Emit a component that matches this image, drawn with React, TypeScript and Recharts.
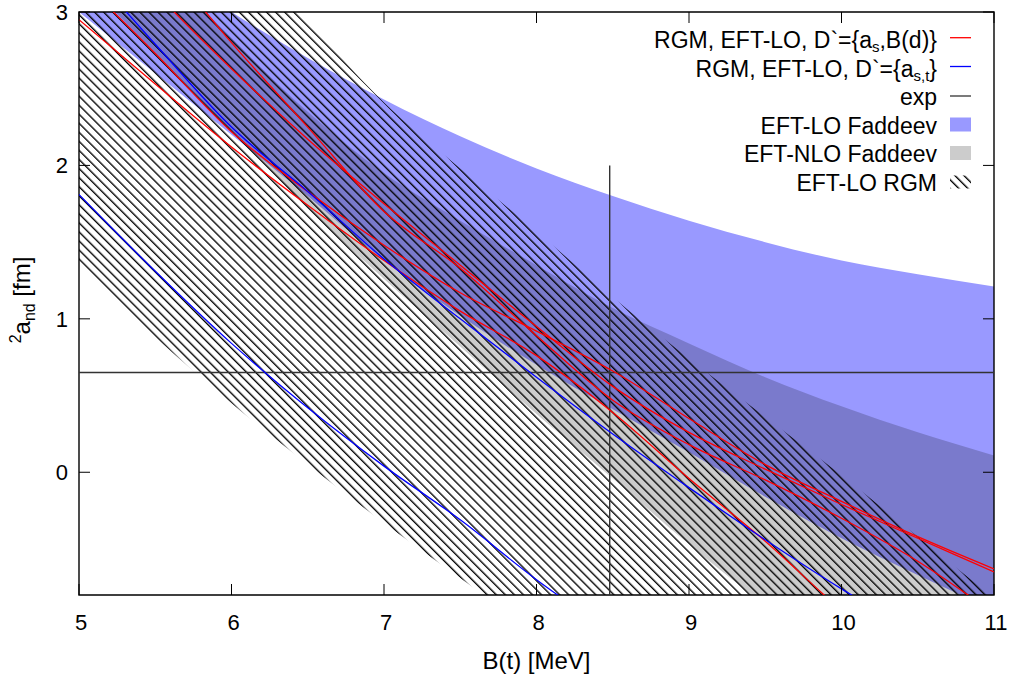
import React from 'react';
import {
  ComposedChart,
  Area,
  Line,
  XAxis,
  YAxis,
  ReferenceLine,
  ReferenceArea,
} from 'recharts';

// Canvas and plot frame
const WIDTH = 1009;
const HEIGHT = 679;
const PLOT_TOP = 12;
const PLOT_RIGHT_MARGIN = 15;
const Y_AXIS_WIDTH = 79;
const X_AXIS_HEIGHT = 84;
const PLOT_LEFT = Y_AXIS_WIDTH;
const PLOT_RIGHT = WIDTH - PLOT_RIGHT_MARGIN;
const PLOT_BOTTOM = HEIGHT - X_AXIS_HEIGHT;
const TICK_LEN = 11;
const FONT = '"Liberation Sans", Arial, Helvetica, sans-serif';

// Axis ranges and tick labels
const X_DOMAIN: [number, number] = [5, 11];
const Y_DOMAIN: [number, number] = [-0.8, 3];
const X_TICKS = [5, 6, 7, 8, 9, 10, 11];
const Y_TICKS = [0, 1, 2, 3];

// Experimental values: B(t) and 2a_nd
const EXP_BT = 8.48;
const EXP_AND = 0.65;
const EXP_BT_LINE_TOP = 2.0;

// Sampling grid for B(t) [MeV]
const bt = [5, 5.5, 6, 6.5, 7, 7.5, 8, 8.5, 9, 9.5, 10, 10.5, 11];

// EFT-LO Faddeev band (upper / lower edge)
const loFaddeevUpper = [3.7, 3.33, 3.0, 2.7, 2.43, 2.19, 1.98, 1.8, 1.64, 1.5, 1.38, 1.29, 1.21];
const loFaddeevLower = [3.0, 2.6, 2.2, 1.8, 1.38, 1.02, 0.7, 0.41, 0.13, -0.16, -0.43, -0.67, -0.9];

// EFT-NLO Faddeev band (upper / lower edge)
const nloFaddeevUpper = [3.9, 3.35, 2.83, 2.35, 1.95, 1.64, 1.35, 1.07, 0.84, 0.62, 0.43, 0.26, 0.11];
const nloFaddeevLower = [3.25, 2.73, 2.23, 1.72, 1.26, 0.82, 0.38, -0.04, -0.47, -0.87, -1.25, -1.6, -1.95];

// EFT-LO RGM band (upper / lower edge)
const loRgmUpper = [4.6, 4.1, 3.55, 2.95, 2.41, 1.98, 1.57, 1.14, 0.74, 0.36, -0.02, -0.42, -0.82];
const loRgmLower = [1.35, 0.88, 0.45, 0.05, -0.33, -0.69, -1.05, -1.4, -1.75, -2.1, -2.45, -2.8, -3.15];

// RGM, EFT-LO with D` = {a_s, B(d)} for several cutoffs
const rgmAsBd1 = [2.95, 2.53, 2.12, 1.74, 1.38, 1.05, 0.76, 0.39, -0.04, -0.45, -0.9, -1.3, -1.7];
const rgmAsBd2 = [3.22, 2.73, 2.22, 1.83, 1.48, 1.17, 0.92, 0.66, 0.35, 0.05, -0.19, -0.42, -0.63];
const rgmAsBd3 = [3.7, 3.13, 2.63, 2.17, 1.75, 1.35, 0.95, 0.56, 0.26, 0.02, -0.21, -0.43, -0.65];
const rgmAsBd4 = [4.0, 3.4, 2.8, 2.25, 1.7, 1.33, 0.89, 0.47, 0.18, -0.05, -0.3, -0.58, -0.92];

// RGM, EFT-LO with D` = {a_s, a_t} for several cutoffs
const rgmAsAt1 = [1.81, 1.31, 0.84, 0.42, 0.04, -0.31, -0.7, -1.05, -1.4, -1.75, -2.1, -2.45, -2.8];
const rgmAsAt2 = [3.35, 2.79, 2.25, 1.83, 1.39, 1.0, 0.62, 0.25, -0.1, -0.44, -0.76, -1.05, -1.33];

const rows = bt.map((x, i) => ({
  x,
  lo: [loFaddeevLower[i], loFaddeevUpper[i]],
  nlo: [nloFaddeevLower[i], nloFaddeevUpper[i]],
  rgm: [loRgmLower[i], loRgmUpper[i]],
  r1: rgmAsBd1[i],
  r2: rgmAsBd2[i],
  r3: rgmAsBd3[i],
  r4: rgmAsBd4[i],
  b1: rgmAsAt1[i],
  b2: rgmAsAt2[i],
}));

const redKeys = ['r1', 'r2', 'r3', 'r4'];
const blueKeys = ['b1', 'b2'];

const XTick = (props: any) => {
  const { x, payload } = props;
  return (
    <g>
      <line x1={x} y1={PLOT_BOTTOM} x2={x} y2={PLOT_BOTTOM - TICK_LEN} stroke="#000" strokeWidth={1} />
      <line x1={x} y1={PLOT_TOP} x2={x} y2={PLOT_TOP + TICK_LEN} stroke="#000" strokeWidth={1} />
      <text x={x + 2} y={PLOT_BOTTOM + 35} textAnchor="middle" fontFamily={FONT} fontSize={22} fill="#000">
        {payload.value}
      </text>
    </g>
  );
};

const YTick = (props: any) => {
  const { y, payload } = props;
  return (
    <g>
      <line x1={PLOT_LEFT} y1={y} x2={PLOT_LEFT + TICK_LEN} y2={y} stroke="#000" strokeWidth={1} />
      <line x1={PLOT_RIGHT} y1={y} x2={PLOT_RIGHT - TICK_LEN} y2={y} stroke="#000" strokeWidth={1} />
      <text x={PLOT_LEFT - 11} y={y + 8} textAnchor="end" fontFamily={FONT} fontSize={22} fill="#000">
        {payload.value}
      </text>
    </g>
  );
};

const LEGEND_TEXT_X = 937;
const LEGEND_KEY_X0 = 950;
const LEGEND_KEY_X1 = 971;
const LEGEND_BASE = [47.7, 76.5, 105, 133.5, 162, 190.5];

const HatchPattern = ({ id }: { id: string }) => (
  <pattern id={id} patternUnits="userSpaceOnUse" width="6.4" height="6.4" patternTransform="rotate(-45)">
    <line x1="0.7" y1="0" x2="0.7" y2="6.4" stroke="#000" strokeWidth="1.35" />
  </pattern>
);

const Legend = () => (
  <svg
    width={WIDTH}
    height={HEIGHT}
    style={{ position: 'absolute', left: 0, top: 0, pointerEvents: 'none' }}
    fontFamily={FONT}
    fontSize={23}
  >
    <defs>
      <HatchPattern id="legendHatch" />
    </defs>
    <text x={LEGEND_TEXT_X} y={LEGEND_BASE[0]} textAnchor="end">
      RGM, EFT-LO, D`={'{'}a<tspan fontSize={15} dy={4}>s</tspan>
      <tspan dy={-4}>,B(d){'}'}</tspan>
    </text>
    <line x1={LEGEND_KEY_X0} x2={LEGEND_KEY_X1} y1={LEGEND_BASE[0] - 10} y2={LEGEND_BASE[0] - 10} stroke="#ff0000" strokeWidth={1.3} />
    <text x={LEGEND_TEXT_X} y={LEGEND_BASE[1]} textAnchor="end">
      RGM, EFT-LO, D`={'{'}a<tspan fontSize={15} dy={4}>s,t</tspan>
      <tspan dy={-4}>{'}'}</tspan>
    </text>
    <line x1={LEGEND_KEY_X0} x2={LEGEND_KEY_X1} y1={LEGEND_BASE[1] - 10} y2={LEGEND_BASE[1] - 10} stroke="#0000ff" strokeWidth={1.3} />
    <text x={LEGEND_TEXT_X} y={LEGEND_BASE[2]} textAnchor="end">exp</text>
    <line x1={LEGEND_KEY_X0} x2={LEGEND_KEY_X1} y1={LEGEND_BASE[2] - 9} y2={LEGEND_BASE[2] - 9} stroke="#333" strokeWidth={1.3} />
    <text x={LEGEND_TEXT_X} y={LEGEND_BASE[3]} textAnchor="end">EFT-LO Faddeev</text>
    <rect x={LEGEND_KEY_X0} y={LEGEND_BASE[3] - 16} width={LEGEND_KEY_X1 - LEGEND_KEY_X0} height={14} fill="#9999ff" />
    <text x={LEGEND_TEXT_X} y={LEGEND_BASE[4]} textAnchor="end">EFT-NLO Faddeev</text>
    <rect x={LEGEND_KEY_X0} y={LEGEND_BASE[4] - 16} width={LEGEND_KEY_X1 - LEGEND_KEY_X0} height={14} fill="#cccccc" />
    <text x={LEGEND_TEXT_X} y={LEGEND_BASE[5]} textAnchor="end">EFT-LO RGM</text>
    <rect x={LEGEND_KEY_X0} y={LEGEND_BASE[5] - 15} width={LEGEND_KEY_X1 - LEGEND_KEY_X0} height={13} fill="url(#legendHatch)" />
  </svg>
);

export default function App() {
  return (
    <div style={{ position: 'absolute', left: 0, top: 0, width: WIDTH, height: HEIGHT, background: '#fff' }}>
      <ComposedChart
        width={WIDTH}
        height={HEIGHT}
        data={rows}
        margin={{ top: PLOT_TOP, right: PLOT_RIGHT_MARGIN, bottom: 0, left: 0 }}
      >
        <defs>
          <HatchPattern id="rgmHatch" />
        </defs>
        <XAxis
          dataKey="x"
          type="number"
          domain={X_DOMAIN}
          ticks={X_TICKS}
          allowDataOverflow
          height={X_AXIS_HEIGHT}
          tickSize={0}
          tickMargin={0}
          axisLine={false}
          tick={<XTick />}
          interval={0}
          label={{ value: 'B(t) [MeV]', position: 'insideBottom', offset: 10, fontFamily: FONT, fontSize: 24, fill: '#000' }}
        />
        <YAxis
          type="number"
          domain={Y_DOMAIN}
          ticks={Y_TICKS}
          allowDataOverflow
          width={Y_AXIS_WIDTH}
          tickSize={0}
          tickMargin={0}
          axisLine={false}
          tick={<YTick />}
          interval={0}
        />
        <Area dataKey="lo" type="monotone" stroke="none" fill="#9999ff" fillOpacity={1} isAnimationActive={false} dot={false} activeDot={false} />
        <Area dataKey="nlo" type="monotone" stroke="none" fill="#000" fillOpacity={0.2} isAnimationActive={false} dot={false} activeDot={false} />
        <Area dataKey="rgm" type="monotone" stroke="none" fill="url(#rgmHatch)" fillOpacity={1} isAnimationActive={false} dot={false} activeDot={false} />
        <ReferenceLine y={EXP_AND} stroke="#333" strokeWidth={1.4} />
        <ReferenceLine segment={[{ x: EXP_BT, y: Y_DOMAIN[0] }, { x: EXP_BT, y: EXP_BT_LINE_TOP }]} stroke="#333" strokeWidth={1.4} />
        {redKeys.map((k) => (
          <Line key={k} dataKey={k} type="monotone" stroke="#ff0000" strokeWidth={1.3} dot={false} activeDot={false} isAnimationActive={false} />
        ))}
        {blueKeys.map((k) => (
          <Line key={k} dataKey={k} type="monotone" stroke="#0000ff" strokeWidth={1.3} dot={false} activeDot={false} isAnimationActive={false} />
        ))}
        <ReferenceArea x1={X_DOMAIN[0]} x2={X_DOMAIN[1]} y1={Y_DOMAIN[0]} y2={Y_DOMAIN[1]} fill="none" stroke="#000" strokeWidth={1.4} fillOpacity={0} />
      </ComposedChart>
      <svg width={WIDTH} height={HEIGHT} style={{ position: 'absolute', left: 0, top: 0, pointerEvents: 'none' }}>
        <text
          transform={`translate(30, 300) rotate(-90)`}
          textAnchor="middle"
          fontFamily={FONT}
          fontSize={24}
          fill="#000"
        >
          <tspan fontSize={16} dy={-9}>2</tspan>
          <tspan dy={9}>a</tspan>
          <tspan fontSize={16} dy={5}>nd</tspan>
          <tspan dy={-5}> [fm]</tspan>
        </text>
      </svg>
      <Legend />
    </div>
  );
}
